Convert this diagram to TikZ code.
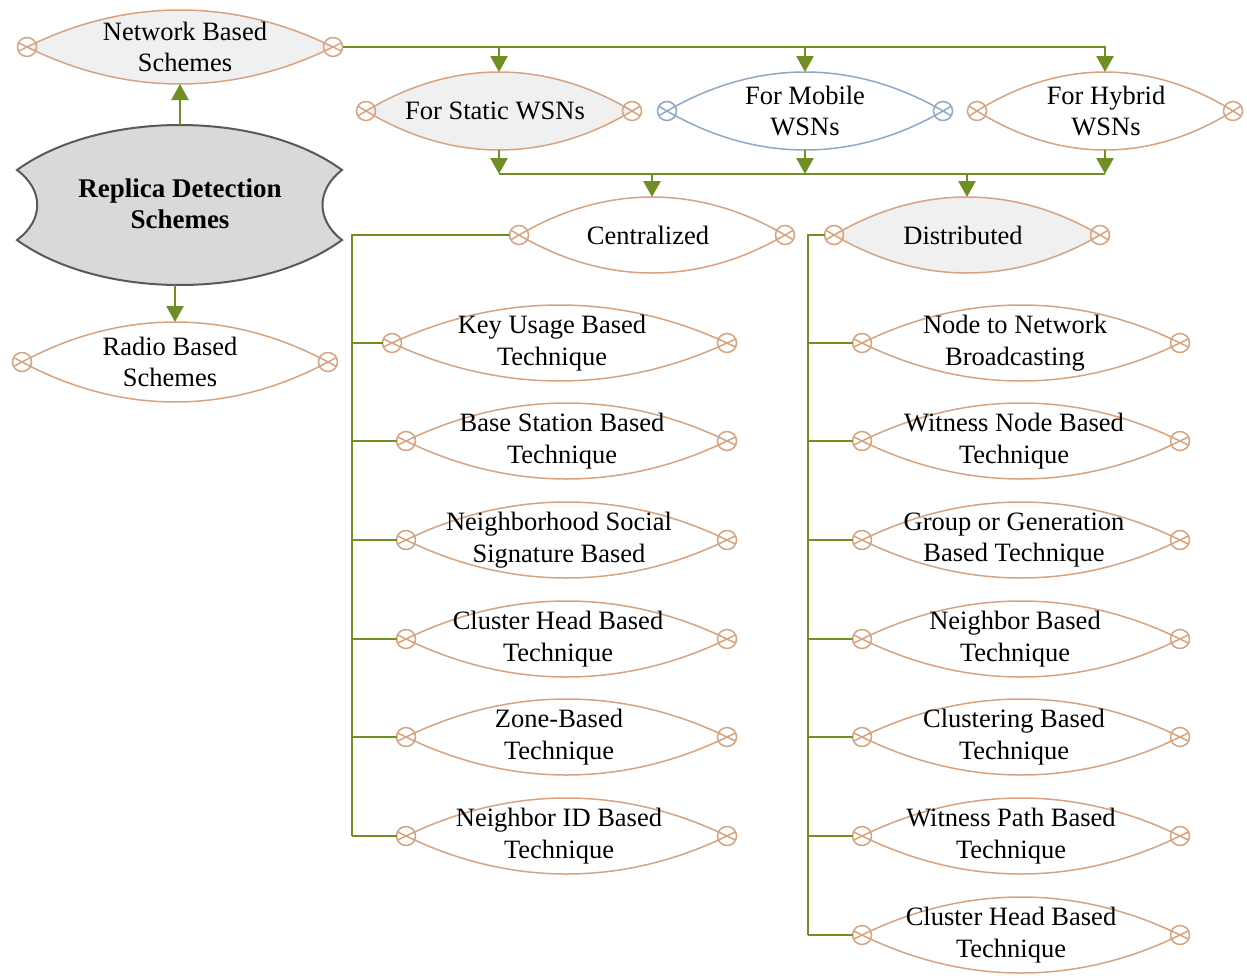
\documentclass[tikz,border=0pt]{standalone}
\usepackage{fontspec}
\setmainfont{Liberation Serif}
\usetikzlibrary{arrows.meta,calc}

\definecolor{lnk}{HTML}{6F8F25}
\definecolor{tan}{HTML}{D7A37F}
\definecolor{blu}{HTML}{8FA8C4}
\definecolor{lgray}{HTML}{F0F0F0}
\definecolor{rootfill}{HTML}{D9D9D9}
\definecolor{rootdraw}{HTML}{595959}

\tikzset{
  lensline/.style={line width=1.5pt},
  lbl/.style={align=center, font=\fontsize{26.5}{31.5}\selectfont, inner sep=0pt},
  conn/.style={draw=lnk, line width=2.6pt},
  arr/.style={-{Triangle[length=16pt,width=17pt]}},
}

% #1 name, #2 centre x, #3 centre y, #4 half width, #5 half height,
% #6 fill, #7 stroke, #8 text x, #9 text
\newcommand\lensnode[9]{%
  \coordinate (#1-tipl) at ({#2-#4},{#3});
  \coordinate (#1-tipr) at ({#2+#4},{#3});
  \coordinate (#1-c1) at ({#2-0.35*#4},{#3-1.3333*#5});
  \coordinate (#1-c2) at ({#2+0.35*#4},{#3-1.3333*#5});
  \coordinate (#1-c3) at ({#2+0.35*#4},{#3+1.3333*#5});
  \coordinate (#1-c4) at ({#2-0.35*#4},{#3+1.3333*#5});
  \filldraw[lensline, draw=#7, fill=#6]
    (#1-tipl) .. controls (#1-c1) and (#1-c2) .. (#1-tipr)
              .. controls (#1-c3) and (#1-c4) .. cycle;
  % crossed loops at both tips
  \draw[lensline, draw=#7]
    ($(#1-tipl)!-9pt!(#1-c1)$) -- (#1-tipl)
    ($(#1-tipl)!-9pt!(#1-c4)$) -- (#1-tipl)
    ($(#1-tipr)!-9pt!(#1-c2)$) -- (#1-tipr)
    ($(#1-tipr)!-9pt!(#1-c3)$) -- (#1-tipr);
  \draw[lensline, draw=#7] (#1-tipl) circle[radius=9.5pt] (#1-tipr) circle[radius=9.5pt];
  \coordinate (#1-l) at ($(#1-tipl)+(-9.5,0)$);
  \coordinate (#1-r) at ($(#1-tipr)+(9.5,0)$);
  \coordinate (#1-t) at ({#2},{#3-#5});
  \coordinate (#1-b) at ({#2},{#3+#5});
  \node[lbl] (#1) at ({#8},{#3}) {#9};
}

\begin{document}
\begin{tikzpicture}[x=1pt, y=-1pt]
\useasboundingbox (0,0) rectangle (1247,977);

% root
\filldraw[draw=rootdraw, fill=rootfill, line width=2pt]
  (17,170) .. controls (100,110) and (260,110) .. (342,170)
           .. controls (316,190) and (316,220) .. (342,240)
           .. controls (260,300) and (100,300) .. (17,240)
           .. controls (44,220) and (44,190) .. cycle;
\node[lbl, font=\bfseries\fontsize{27}{31.5}\selectfont] (root) at (180,204) {Replica Detection\\Schemes};
\coordinate (root-t) at (180,125);
\coordinate (root-b) at (175,285);

% first level
\lensnode{net}{180}{47}{153}{37}{lgray}{tan}{185}{Network Based\\Schemes}
\lensnode{radio}{175}{362}{153}{40}{white}{tan}{170}{Radio Based\\Schemes}

% network types
\lensnode{static}{499}{111}{133}{39}{lgray}{tan}{495}{For Static WSNs}
\lensnode{mobile}{805}{111}{138}{39}{white}{blu}{805}{For Mobile\\WSNs}
\lensnode{hybrid}{1105}{111}{128}{39}{white}{tan}{1106}{For Hybrid\\WSNs}

% approaches
\lensnode{central}{652}{235}{133}{38}{white}{tan}{648}{Centralized}
\lensnode{dist}{967}{235}{133}{38}{lgray}{tan}{963}{Distributed}

% centralized techniques
\lensnode{k1}{559.5}{343}{167.5}{38}{white}{tan}{552}{Key Usage Based\\Technique}
\lensnode{k2}{566.5}{441}{160.5}{38}{white}{tan}{562}{Base Station Based\\Technique}
\lensnode{k3}{566.5}{540}{160.5}{38}{white}{tan}{559}{Neighborhood Social\\Signature Based}
\lensnode{k4}{566.5}{639}{160.5}{38}{white}{tan}{558}{Cluster Head Based\\Technique}
\lensnode{k5}{566.5}{737}{160.5}{38}{white}{tan}{559}{Zone-Based\\Technique}
\lensnode{k6}{566.5}{836}{160.5}{38}{white}{tan}{559}{Neighbor ID Based\\Technique}

% distributed techniques
\lensnode{d1}{1021}{343}{159}{38}{white}{tan}{1015}{Node to Network\\Broadcasting}
\lensnode{d2}{1021}{441}{159}{38}{white}{tan}{1014}{Witness Node Based\\Technique}
\lensnode{d3}{1021}{540}{159}{38}{white}{tan}{1014}{Group or Generation\\Based Technique}
\lensnode{d4}{1021}{639}{159}{38}{white}{tan}{1015}{Neighbor Based\\Technique}
\lensnode{d5}{1021}{737}{159}{38}{white}{tan}{1014}{Clustering Based\\Technique}
\lensnode{d6}{1021}{836}{159}{38}{white}{tan}{1011}{Witness Path Based\\Technique}
\lensnode{d7}{1021}{935}{159}{38}{white}{tan}{1011}{Cluster Head Based\\Technique}

% connectors
\draw[conn, arr] (root-t) -- (net-b);
\draw[conn, arr] (root-b) -- (radio-t);

\draw[conn, arr] (net-r) -| (hybrid-t);
\draw[conn, arr] (net-r -| static-t) -- (static-t);
\draw[conn, arr] (net-r -| mobile-t) -- (mobile-t);

\coordinate (low) at (0,174);
\draw[conn] (static-b |- low) -- (hybrid-b |- low);
\draw[conn, arr] (static-b) -- (static-b |- low);
\draw[conn, arr] (mobile-b) -- (mobile-b |- low);
\draw[conn, arr] (hybrid-b) -- (hybrid-b |- low);
\draw[conn, arr] (central-t |- low) -- (central-t);
\draw[conn, arr] (dist-t |- low) -- (dist-t);

\coordinate (lbar) at (352,0);
\coordinate (rbar) at (808,0);
\draw[conn] (central-l) -- (central-l -| lbar) -- (k6-l -| lbar);
\foreach \k in {k1,k2,k3,k4,k5,k6} \draw[conn] (\k-l -| lbar) -- (\k-l);
\draw[conn] (dist-l) -- (dist-l -| rbar) -- (d7-l -| rbar);
\foreach \k in {d1,d2,d3,d4,d5,d6,d7} \draw[conn] (\k-l -| rbar) -- (\k-l);
\end{tikzpicture}
\end{document}
